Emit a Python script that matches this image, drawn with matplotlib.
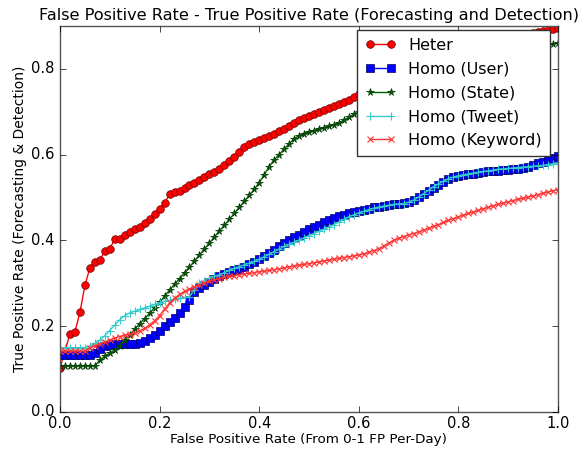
import matplotlib
matplotlib.use("Agg")
import matplotlib.pyplot as plt

plt.style.use("classic")

# ---------------- data ----------------
fpr = [0.00, 0.01, 0.02, 0.03, 0.04, 0.05, 0.06, 0.07, 0.08, 0.09,
       0.10, 0.11, 0.12, 0.13, 0.14, 0.15, 0.16, 0.17, 0.18, 0.19,
       0.20, 0.21, 0.22, 0.23, 0.24, 0.25, 0.26, 0.27, 0.28, 0.29,
       0.30, 0.31, 0.32, 0.33, 0.34, 0.35, 0.36, 0.37, 0.38, 0.39,
       0.40, 0.41, 0.42, 0.43, 0.44, 0.45, 0.46, 0.47, 0.48, 0.49,
       0.50, 0.51, 0.52, 0.53, 0.54, 0.55, 0.56, 0.57, 0.58, 0.59,
       0.60, 0.61, 0.62, 0.63, 0.64, 0.65, 0.66, 0.67, 0.68, 0.69,
       0.70, 0.71, 0.72, 0.73, 0.74, 0.75, 0.76, 0.77, 0.78, 0.79,
       0.80, 0.81, 0.82, 0.83, 0.84, 0.85, 0.86, 0.87, 0.88, 0.89,
       0.90, 0.91, 0.92, 0.93, 0.94, 0.95, 0.96, 0.97, 0.98, 0.99,
       1.00]

heter_x = [0.00, 0.02, 0.03, 0.04, 0.05, 0.06, 0.07, 0.08, 0.09,
           0.10, 0.11, 0.12, 0.13, 0.14, 0.15, 0.16, 0.17, 0.18, 0.19,
           0.20, 0.21, 0.22, 0.23, 0.24, 0.25, 0.26, 0.27, 0.28, 0.29,
           0.30, 0.31, 0.32, 0.33, 0.34, 0.35, 0.36, 0.37, 0.38, 0.39,
           0.40, 0.41, 0.42, 0.43, 0.44, 0.45, 0.46, 0.47, 0.48, 0.49,
           0.50, 0.51, 0.52, 0.53, 0.54, 0.55, 0.56, 0.57, 0.58, 0.59,
           0.60, 0.61, 0.62, 0.63, 0.64, 0.65, 0.66, 0.67, 0.68, 0.69,
           0.70, 0.71, 0.72, 0.73, 0.74, 0.75, 0.76, 0.77, 0.78, 0.79,
           0.80, 0.81, 0.82, 0.83, 0.84, 0.85, 0.86, 0.87, 0.88, 0.89,
           0.90, 0.91, 0.92, 0.93, 0.94, 0.95, 0.96, 0.97, 0.98, 0.99,
           1.00]
heter = [0.103, 0.182, 0.187, 0.232, 0.295, 0.336, 0.350, 0.355, 0.375,
         0.381, 0.403, 0.404, 0.412, 0.420, 0.426, 0.432, 0.440, 0.451, 0.462,
         0.473, 0.487, 0.508, 0.512, 0.516, 0.522, 0.529, 0.535, 0.541, 0.549,
         0.554, 0.560, 0.566, 0.575, 0.585, 0.595, 0.607, 0.617, 0.624, 0.630,
         0.634, 0.639, 0.644, 0.649, 0.655, 0.661, 0.667, 0.673, 0.680, 0.686,
         0.691, 0.695, 0.700, 0.704, 0.708, 0.713, 0.718, 0.723, 0.728, 0.734,
         0.741, 0.745, 0.749, 0.753, 0.757, 0.762, 0.766, 0.770, 0.774, 0.778,
         0.782, 0.786, 0.791, 0.795, 0.799, 0.803, 0.807, 0.811, 0.816, 0.820,
         0.824, 0.828, 0.832, 0.836, 0.841, 0.845, 0.849, 0.853, 0.857, 0.861,
         0.866, 0.870, 0.874, 0.878, 0.880, 0.883, 0.885, 0.888, 0.890, 0.893,
         0.896]

homo_user = [0.133, 0.133, 0.133, 0.133, 0.133, 0.133, 0.133, 0.138, 0.147, 0.153,
             0.157, 0.159, 0.159, 0.159, 0.159, 0.159, 0.160, 0.166, 0.173, 0.180,
             0.190, 0.200, 0.210, 0.219, 0.230, 0.244, 0.262, 0.279, 0.290, 0.297,
             0.304, 0.310, 0.316, 0.322, 0.327, 0.331, 0.334, 0.338, 0.344, 0.350,
             0.357, 0.364, 0.371, 0.378, 0.386, 0.393, 0.400, 0.407, 0.413, 0.420,
             0.426, 0.431, 0.437, 0.442, 0.447, 0.452, 0.456, 0.460, 0.463, 0.466,
             0.469, 0.471, 0.474, 0.477, 0.479, 0.481, 0.483, 0.485, 0.486, 0.487,
             0.490, 0.495, 0.501, 0.508, 0.515, 0.522, 0.530, 0.537, 0.543, 0.547,
             0.550, 0.552, 0.554, 0.556, 0.558, 0.560, 0.561, 0.562, 0.563, 0.564,
             0.565, 0.566, 0.567, 0.569, 0.572, 0.576, 0.580, 0.584, 0.588, 0.593,
             0.596]

homo_state = [0.108, 0.108, 0.108, 0.108, 0.108, 0.108, 0.108, 0.108, 0.121, 0.130,
              0.137, 0.144, 0.155, 0.168, 0.180, 0.193, 0.206, 0.218, 0.230, 0.243,
              0.256, 0.270, 0.284, 0.298, 0.311, 0.325, 0.338, 0.352, 0.366, 0.380,
              0.394, 0.408, 0.422, 0.435, 0.449, 0.463, 0.477, 0.491, 0.505, 0.519,
              0.535, 0.553, 0.572, 0.588, 0.600, 0.613, 0.625, 0.637, 0.644, 0.649,
              0.653, 0.656, 0.660, 0.663, 0.666, 0.670, 0.674, 0.680, 0.687, 0.694,
              0.700, 0.704, 0.708, 0.712, 0.716, 0.720, 0.724, 0.728, 0.733, 0.737,
              0.741, 0.745, 0.749, 0.753, 0.757, 0.761, 0.765, 0.769, 0.774, 0.778,
              0.782, 0.786, 0.790, 0.794, 0.798, 0.802, 0.806, 0.810, 0.815, 0.819,
              0.823, 0.827, 0.831, 0.835, 0.839, 0.843, 0.847, 0.851, 0.855, 0.858,
              0.860]

homo_tweet = [0.150, 0.150, 0.150, 0.150, 0.150, 0.150, 0.154, 0.160, 0.168, 0.178,
              0.190, 0.203, 0.215, 0.225, 0.231, 0.235, 0.239, 0.243, 0.247, 0.251,
              0.255, 0.258, 0.261, 0.263, 0.265, 0.267, 0.269, 0.285, 0.300, 0.306,
              0.312, 0.316, 0.320, 0.325, 0.330, 0.335, 0.339, 0.343, 0.347, 0.351,
              0.356, 0.362, 0.368, 0.374, 0.380, 0.386, 0.391, 0.396, 0.401, 0.406,
              0.411, 0.416, 0.421, 0.426, 0.431, 0.437, 0.443, 0.449, 0.455, 0.460,
              0.464, 0.468, 0.472, 0.475, 0.478, 0.480, 0.482, 0.484, 0.485, 0.486,
              0.489, 0.494, 0.501, 0.509, 0.517, 0.525, 0.532, 0.538, 0.544, 0.548,
              0.551, 0.553, 0.555, 0.557, 0.559, 0.561, 0.562, 0.564, 0.566, 0.567,
              0.568, 0.569, 0.570, 0.571, 0.572, 0.573, 0.574, 0.575, 0.577, 0.579,
              0.581]

homo_keyword = [0.142, 0.142, 0.142, 0.142, 0.142, 0.142, 0.150, 0.155, 0.159, 0.163,
                0.168, 0.172, 0.176, 0.179, 0.181, 0.184, 0.189, 0.195, 0.203, 0.213,
                0.225, 0.240, 0.254, 0.265, 0.274, 0.281, 0.287, 0.292, 0.297, 0.301,
                0.305, 0.308, 0.311, 0.314, 0.316, 0.318, 0.320, 0.322, 0.323, 0.325,
                0.327, 0.328, 0.330, 0.332, 0.334, 0.336, 0.338, 0.340, 0.342, 0.344,
                0.346, 0.348, 0.350, 0.352, 0.354, 0.356, 0.358, 0.360, 0.362, 0.364,
                0.366, 0.369, 0.372, 0.376, 0.381, 0.387, 0.394, 0.400, 0.405, 0.409,
                0.413, 0.416, 0.420, 0.424, 0.428, 0.433, 0.437, 0.442, 0.447, 0.451,
                0.455, 0.459, 0.463, 0.466, 0.470, 0.474, 0.477, 0.481, 0.484, 0.487,
                0.490, 0.493, 0.496, 0.498, 0.501, 0.504, 0.507, 0.510, 0.513, 0.516,
                0.518]

labels = ["Heter", "Homo (User)", "Homo (State)", "Homo (Tweet)", "Homo (Keyword)"]
x_ticks = [0.0, 0.2, 0.4, 0.6, 0.8, 1.0]
y_ticks = [0.0, 0.2, 0.4, 0.6, 0.8]

# ---------------- figure ----------------
fig = plt.figure(figsize=(5.85, 4.5), dpi=100, facecolor="white")
ax = fig.add_axes([60 / 585, 38 / 450, 498 / 585, 386 / 450])
ax.set_facecolor("white")

ax.plot(heter_x, heter, color="r", marker="o", ms=5.5, mec="#660000", mew=0.5,
        lw=1, label=labels[0])
ax.plot(fpr, homo_user, color="b", marker="s", ms=5.5, mec="#000066", mew=0.5,
        lw=1, label=labels[1])
ax.plot(fpr, homo_state, color="#006400", marker="*", ms=5.5, mec="#003300",
        mew=0.5, lw=1, label=labels[2])
ax.plot(fpr, homo_tweet, color="#33cccc", marker="+", ms=6, mew=0.8,
        lw=1, label=labels[3])
ax.plot(fpr, homo_keyword, color="#ff3333", marker="x", ms=5, mew=0.8,
        lw=1, label=labels[4])

ax.set_xlim(0, 1.0)
ax.set_ylim(0, 0.9)
ax.set_xticks(x_ticks)
ax.set_yticks(y_ticks)
ax.tick_params(labelsize=10.5, direction="in", top=True, right=True)
ax.tick_params(axis="x", pad=3)
ax.tick_params(axis="y", pad=4)
for s in ax.spines.values():
    s.set_color("#555555")

ax.set_title("False Positive Rate - True Positive Rate (Forecasting and Detection)",
             fontsize=11.6, pad=4)
ax.set_xlabel("False Positive Rate (From 0-1 FP Per-Day)", fontsize=9.7, labelpad=1)
ax.set_ylabel("True Positive Rate (Forecasting & Detection)", fontsize=10, labelpad=3)

leg = ax.legend(loc="upper right", bbox_to_anchor=(0.984, 0.99),
                borderaxespad=0, fontsize=11.5, numpoints=2,
                handlelength=1.9, framealpha=1, fancybox=False,
                labelspacing=0.55, borderpad=0.5)
leg.get_frame().set_edgecolor("#333333")

fig.savefig("out.png", dpi=100, facecolor="white")
